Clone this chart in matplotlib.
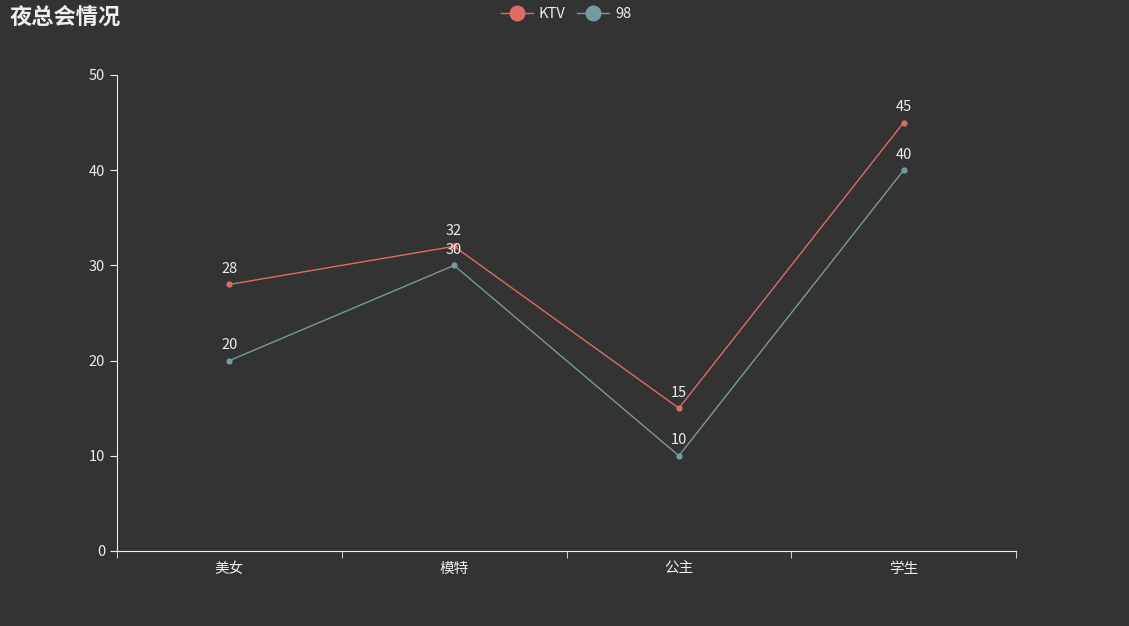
import matplotlib
matplotlib.use("Agg")
import matplotlib.pyplot as plt

categories = ["美女", "模特", "公主", "学生"]
ktv = [28, 32, 15, 45]
s98 = [20, 30, 10, 40]

plt.rcParams['font.family'] = ['Noto Sans CJK SC', 'DejaVu Sans']
W, H = 1129, 626
fig = plt.figure(figsize=(W/100, H/100), dpi=100, facecolor='#333333')
ax = fig.add_axes([117/W, 1-551/H, (1016-117)/W, (551-75)/H], facecolor='#333333')
x = list(range(len(categories)))
for ys, c, name in [(ktv, '#dd6b66', 'KTV'), (s98, '#759aa0', '98')]:
    ax.plot(x, ys, color=c, lw=1, marker='o', ms=3.5, label=name)
    for xi, yi in zip(x, ys):
        ax.text(xi, yi + 0.9, str(yi), color='#eeeeee', ha='center', va='bottom', fontsize=10.5)
ax.set_xlim(-0.5, 3.5)
ax.set_ylim(0, 50)
ax.set_yticks(range(0, 51, 10))
ax.set_xticks(x)
ax.set_xticklabels(categories)
ax.set_xticks([-0.5, 0.5, 1.5, 2.5, 3.5], minor=True)
ax.tick_params(axis='x', which='major', length=0, colors='#eeeeee', labelsize=10.5, pad=8)
ax.tick_params(axis='x', which='minor', length=5, color='#eeeeee', direction='out')
ax.tick_params(axis='y', length=5, colors='#eeeeee', labelsize=10.5)
for s in ['top', 'right']:
    ax.spines[s].set_visible(False)
for s in ['left', 'bottom']:
    ax.spines[s].set_color('#eeeeee')
fig.text(10/W, 1-17/H, "夜总会情况", color='#eeeeee', fontsize=16, fontweight='bold', va='center')
leg = fig.legend(loc='center', bbox_to_anchor=(566/W, 1-14/H), ncol=2, frameon=False,
                 labelcolor='#eeeeee', fontsize=10.5, markerscale=3, handlelength=2.2,
                 columnspacing=0.8, handletextpad=0.4)
fig.savefig("out.png", dpi=100, facecolor='#333333')
